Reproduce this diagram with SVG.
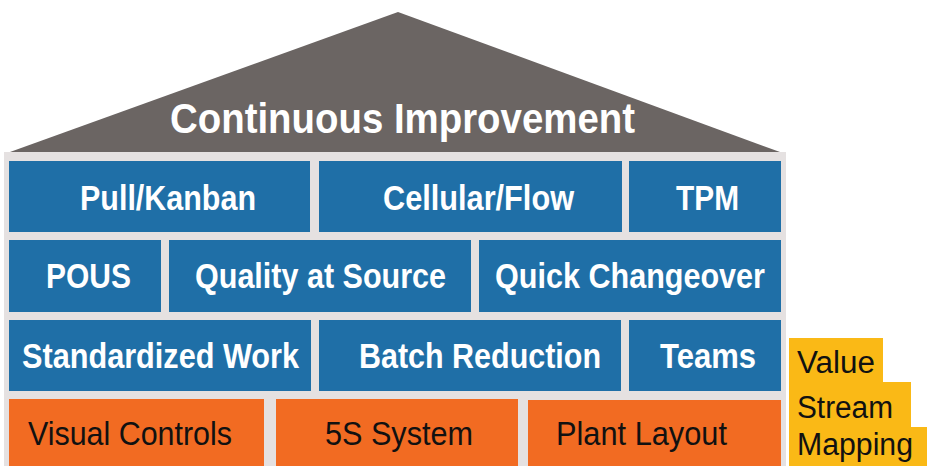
<svg xmlns="http://www.w3.org/2000/svg" width="927" height="466" viewBox="0 0 927 466">
<style>
.blue{fill:#1f6fa7}
.orange{fill:#f26b22}
.wt{fill:#ffffff;font-family:"Liberation Sans",Arial,sans-serif;font-weight:bold;font-size:35px}
.bt{fill:#111111;font-family:"Liberation Sans",Arial,sans-serif;font-size:34px}
.vt{fill:#111111;font-family:"Liberation Sans",Arial,sans-serif;font-size:31px}
</style>
<rect x="0" y="0" width="927" height="466" fill="#ffffff"/>
<rect x="4" y="152" width="782" height="314" fill="#e5e1e1"/>
<g id="roof">
<polygon points="10,152 398,12 780,152" fill="#6b6563"/>
<text x="170" y="133" class="wt" style="font-size:43px" textLength="465" lengthAdjust="spacingAndGlyphs">Continuous Improvement</text>
</g>
<g id="pull-kanban"><rect class="blue" x="9" y="161" width="301" height="71"/><text class="wt" x="80" y="210" textLength="176" lengthAdjust="spacingAndGlyphs">Pull/Kanban</text></g>
<g id="cellular-flow"><rect class="blue" x="319" y="161" width="303" height="71"/><text class="wt" x="383" y="210" textLength="191" lengthAdjust="spacingAndGlyphs">Cellular/Flow</text></g>
<g id="tpm"><rect class="blue" x="629" y="161" width="152" height="71"/><text class="wt" x="676" y="210" textLength="63" lengthAdjust="spacingAndGlyphs">TPM</text></g>
<g id="pous"><rect class="blue" x="9" y="240" width="152" height="72"/><text class="wt" x="46" y="288" textLength="85" lengthAdjust="spacingAndGlyphs">POUS</text></g>
<g id="quality-at-source"><rect class="blue" x="169" y="240" width="302" height="72"/><text class="wt" x="195" y="288" textLength="251" lengthAdjust="spacingAndGlyphs">Quality at Source</text></g>
<g id="quick-changeover"><rect class="blue" x="479" y="240" width="302" height="72"/><text class="wt" x="495" y="288" textLength="270" lengthAdjust="spacingAndGlyphs">Quick Changeover</text></g>
<g id="standardized-work"><rect class="blue" x="9" y="320" width="302" height="71"/><text class="wt" x="22" y="368" textLength="277" lengthAdjust="spacingAndGlyphs">Standardized Work</text></g>
<g id="batch-reduction"><rect class="blue" x="319" y="320" width="302" height="71"/><text class="wt" x="359" y="368" textLength="242" lengthAdjust="spacingAndGlyphs">Batch Reduction</text></g>
<g id="teams"><rect class="blue" x="629" y="320" width="152" height="71"/><text class="wt" x="660" y="368" textLength="96" lengthAdjust="spacingAndGlyphs">Teams</text></g>
<g id="visual-controls"><rect class="orange" x="9" y="399" width="255" height="67"/><text class="bt" x="28" y="445" textLength="204" lengthAdjust="spacingAndGlyphs">Visual Controls</text></g>
<g id="5s-system"><rect class="orange" x="276" y="399" width="242" height="67"/><text class="bt" x="325" y="445" textLength="148" lengthAdjust="spacingAndGlyphs">5S System</text></g>
<g id="plant-layout"><rect class="orange" x="528" y="400" width="253" height="66"/><text class="bt" x="556" y="445" textLength="171" lengthAdjust="spacingAndGlyphs">Plant Layout</text></g>
<g id="value-stream-mapping">
<polygon points="789,338 883,338 883,382 911,382 911,427 927,427 927,466 789,466" fill="#fab916"/>
<text class="vt" x="797" y="373" textLength="78" lengthAdjust="spacingAndGlyphs">Value</text>
<text class="vt" x="797" y="418" textLength="96" lengthAdjust="spacingAndGlyphs">Stream</text>
<text class="vt" x="797" y="455" textLength="116" lengthAdjust="spacingAndGlyphs">Mapping</text>
</g>
<g id="connectors"/>
</svg>
